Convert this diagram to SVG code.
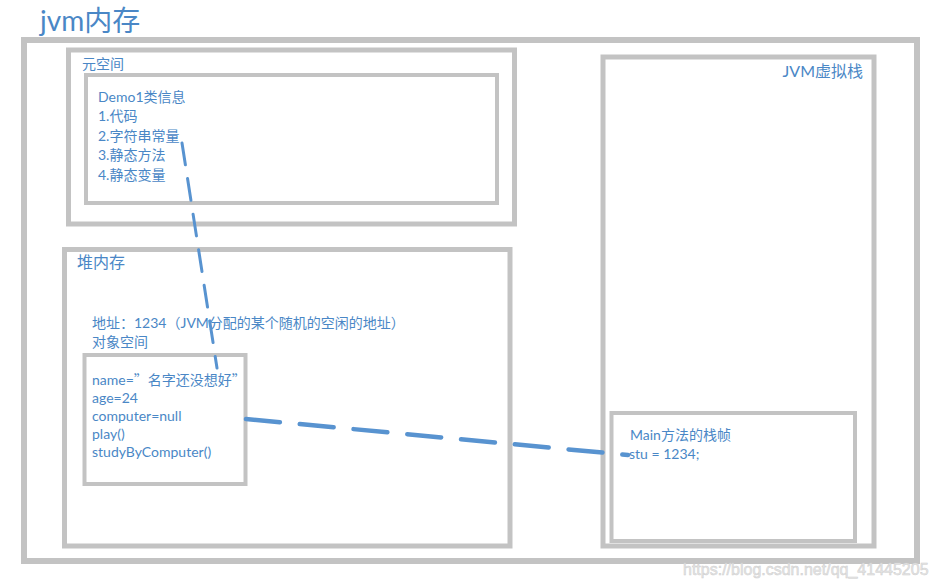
<svg xmlns="http://www.w3.org/2000/svg" width="936" height="588" viewBox="0 0 936 588">
<style>
.box{fill:#fff;stroke:#c3c3c3}
.t{font-family:"Lato","Noto Sans CJK SC",sans-serif;fill:#4a87c6}
.c{font-family:"Noto Sans CJK SC",sans-serif}
.s14{font-size:14px}
.dash{fill:none;stroke:#5893d0;stroke-linecap:round}
</style>
<rect width="936" height="588" fill="#fff"/>
<text class="t" x="40" y="31" font-size="28">jvm内存</text>
<g id="jvm">
<rect class="box" x="24" y="40" width="893" height="521" stroke-width="6"/>
</g>
<g id="metaspace">
<rect class="box" x="68.5" y="50" width="446" height="174" stroke-width="5"/>
<text class="t s14" x="82" y="69">元空间</text>
</g>
<g id="classinfo">
<rect class="box" x="86" y="75" width="411" height="128" stroke-width="4"/>
<text class="t s14" x="98" y="102">Demo1类信息</text>
<text class="t s14" x="98" y="121">1.代码</text>
<text class="t s14" x="98" y="141">2.字符串常量</text>
<text class="t s14" x="98" y="160">3.静态方法</text>
<text class="t s14" x="98" y="180">4.静态变量</text>
</g>
<g id="heap">
<rect class="box" x="64.5" y="249.5" width="445.5" height="296.5" stroke-width="5"/>
<text class="t" x="77" y="268" font-size="16">堆内存</text>
<text class="t s14" x="92" y="328">地址：1234（JVM分配的某个随机的空闲的地址）</text>
<text class="t s14" x="92" y="347">对象空间</text>
</g>
<g id="object">
<rect class="box" x="84.5" y="355" width="161" height="129" stroke-width="4"/>
<text class="t s14" x="92" y="385">name=<tspan class="c">”名字还没想好”</tspan></text>
<text class="t s14" x="92" y="403">age=24</text>
<text class="t s14" x="92" y="421">computer=null</text>
<text class="t s14" x="92" y="439">play()</text>
<text class="t s14" x="92" y="457">studyByComputer()</text>
</g>
<g id="stack">
<rect class="box" x="603" y="57" width="271" height="489" stroke-width="5"/>
<text class="t" x="863" y="77" font-size="16" text-anchor="end">JVM虚拟栈</text>
</g>
<g id="mainframe">
<rect class="box" x="611.5" y="413" width="243.5" height="128" stroke-width="4"/>
<text class="t s14" x="630" y="440">Main方法的栈帧</text>
<text class="t s14" x="629" y="459">stu = 1234;</text>
</g>
<g id="connectors">
<line class="dash" x1="182" y1="143" x2="217" y2="368" stroke-width="3" stroke-dasharray="22 14"/>
<line class="dash" x1="246" y1="419" x2="628" y2="455" stroke-width="4.5" stroke-dasharray="34 20"/>
</g>
<text x="683" y="575" font-family="'Liberation Sans',sans-serif" font-size="16" fill="#e6e6e6" stroke="#cfcfcf" stroke-width="0.5">https://blog.csdn.net/qq_41445205</text>
</svg>
